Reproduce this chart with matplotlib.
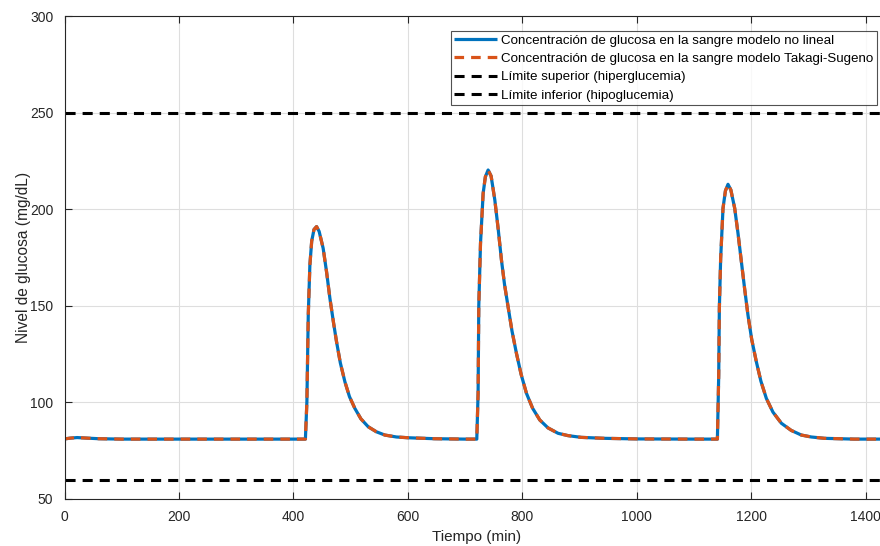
import matplotlib
matplotlib.use("Agg")
import matplotlib.pyplot as plt

plt.rcParams['font.family'] = ['Liberation Sans', 'DejaVu Sans']

# Puntos (tiempo en min, glucosa en mg/dL)
tiempo = [0, 10, 22, 40, 60, 100, 200, 300, 400, 421,
          423.6, 426, 428.8, 432, 436, 440.5, 445, 452, 458, 463.8, 470, 475.4, 482, 490,
          498, 507.4, 518, 530.7, 545, 559.8, 580, 600.6, 647, 700, 720.5,
          722.8, 724, 727, 731.6, 735.5, 740.3, 745.5, 752, 758, 763.6, 769, 775.2, 782, 789.8,
          798, 807.3, 818, 830.6, 845, 862.6, 880, 903, 944, 1000, 1100, 1141,
          1143.3, 1144.4, 1146.7, 1150.8, 1155, 1159.5, 1164.5, 1171.2, 1177, 1182.9, 1188.5,
          1194.4, 1201, 1209, 1217, 1226.5, 1238, 1252.8, 1270, 1287.7, 1305, 1328.4, 1380, 1440]
glucosa_nl = [81.1, 81.5, 81.8, 81.5, 81.2, 81.0, 81.0, 81.0, 81.0, 81.0,
              100.4, 145.2, 171, 183.5, 189.5, 191, 188.5, 179.8, 167.5, 153.9, 141.5, 131.4, 120.5, 110.7,
              103, 96.9, 91.5, 87.4, 84.8, 83.1, 82.1, 81.7, 81.2, 81.0, 81.0,
              104.7, 150, 182.3, 208.2, 216.8, 220.3, 217.2, 204.8, 189.5, 173.7, 161, 149.5, 137, 125.4,
              114.5, 104.7, 97, 90.9, 86.8, 84, 82.8, 81.9, 81.4, 81.1, 81.0, 81.0,
              114.2, 148.7, 174.6, 200.5, 209.5, 212.9, 210, 200.5, 187.5, 172.8, 159,
              145.2, 132.5, 121.1, 111, 102.1, 95, 89.2, 85.5, 83.1, 82.1, 81.4, 81.0, 81.0]
# El modelo Takagi-Sugeno coincide visualmente con el no lineal
glucosa_ts = list(glucosa_nl)

lim_sup = 250
lim_inf = 60
x_ticks = [0, 200, 400, 600, 800, 1000, 1200, 1400]
y_ticks = [50, 100, 150, 200, 250, 300]

fig = plt.figure(figsize=(8.8, 5.46), dpi=100)
ax = fig.add_axes([64.5 / 880, 47 / 546, 824 / 880, 483 / 546])

ax.plot(tiempo, glucosa_nl, color='#0072BD', lw=2.3, solid_capstyle='butt',
        label='Concentración de glucosa en la sangre modelo no lineal')
ax.plot(tiempo, glucosa_ts, color='#D95319', lw=2.3, dashes=(3.0, 2.2),
        label='Concentración de glucosa en la sangre modelo Takagi-Sugeno')
ax.axhline(lim_sup, color='black', lw=2.2, dashes=(3.3, 2.3),
           label='Límite superior (hiperglucemia)')
ax.axhline(lim_inf, color='black', lw=2.2, dashes=(3.3, 2.3),
           label='Límite inferior (hipoglucemia)')

ax.set_xlim(0, 1440)
ax.set_ylim(50, 300)
ax.set_xticks(x_ticks)
ax.set_yticks(y_ticks)
ax.grid(True, color='#dedede', lw=0.8)
ax.set_axisbelow(True)
ax.tick_params(direction='in', length=5, width=0.8, labelsize=10, colors='#262626',
               top=True, right=True)
ax.tick_params(axis='x', pad=8)
ax.tick_params(axis='y', pad=8)
for s in ax.spines.values():
    s.set_color('#262626')
    s.set_linewidth(0.8)

ax.set_xlabel('Tiempo (min)', fontsize=11, color='#262626', labelpad=4)
ax.set_ylabel('Nivel de glucosa (mg/dL)', fontsize=11.2, color='#262626', labelpad=-1)

leg = ax.legend(loc='upper right', bbox_to_anchor=(877 / 880, 1 - 31 / 546),
                bbox_transform=fig.transFigure, fontsize=9.6, frameon=True, fancybox=False,
                handlelength=3.2, handletextpad=0.35, labelspacing=0.45,
                borderpad=0.25, borderaxespad=0)
leg.get_frame().set_edgecolor('#262626')
leg.get_frame().set_linewidth(0.8)

fig.savefig('out.png', dpi=100)
